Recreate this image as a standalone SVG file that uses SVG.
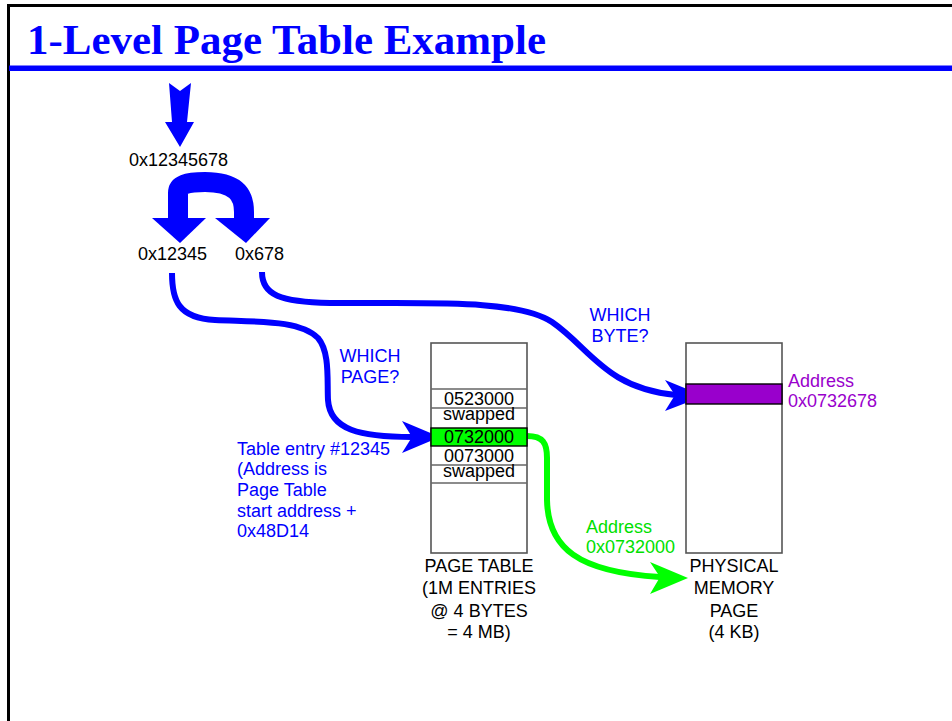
<svg xmlns="http://www.w3.org/2000/svg" width="952" height="721" viewBox="0 0 952 721">
<style>
text{font-family:"Liberation Sans",Arial,sans-serif;font-size:18px}
.title{font-family:"Liberation Serif","Times New Roman",serif;font-size:43px;font-weight:bold;fill:#0000ff}
.blue{fill:#0000ff}
.green{fill:#00e000}
.purple{fill:#9900cc}
.c{text-anchor:middle}
.box{fill:#fff;stroke:#555;stroke-width:1.6}
.row{stroke:#666;stroke-width:1.4}
.wire{fill:none;stroke-width:6;stroke-linecap:butt}
</style>
<rect x="0" y="0" width="952" height="721" fill="#fff"/>
<path d="M8.5,721 V5.5 H952" fill="none" stroke="#000" stroke-width="3"/>
<rect x="9" y="65.5" width="943" height="5.5" fill="#0000ff"/>
<text class="title" x="27" y="54" textLength="519" lengthAdjust="spacingAndGlyphs">1-Level Page Table Example</text>

<g id="address">
<polygon points="169,83 180,91 191,83 187,122 194,122 180,147 165,122 172,122" fill="#0000ff"/>
<text x="129" y="166">0x12345678</text>
</g>

<g id="split">
<path d="M178,219 V193 C178,185 186,182 205,182 C236,182 244,195 244,212 V219" fill="none" stroke="#0000ff" stroke-width="20"/>
<polygon points="152,218 206,218 180,243" fill="#0000ff"/>
<polygon points="215,218 270,218 246,243" fill="#0000ff"/>
<text x="138" y="260">0x12345</text>
<text x="235" y="260">0x678</text>
</g>

<g id="connectors">
<path class="wire" stroke="#0000ff" d="M172,273 C172,300 178,318 215,320 C260,322 300,320 318,338 C330,352 327,380 328,400 C330,430 360,437 412,437"/>
<polygon points="440,437 402,421 412,437 402,453" fill="#0000ff"/>
<path class="wire" stroke="#0000ff" d="M262,272 C262,295 280,302 330,303 C420,304 515,298 552,322 C590,348 605,388 676,395"/>
<polygon points="704,396 665,380 675,395 665,411" fill="#0000ff"/>
<path class="wire" stroke="#00ff00" d="M527,436 C543,436 547,443 547,458 L547,500 C548,548 578,572 660,577"/>
<polygon points="688,578 650,562 660,577 650,594" fill="#00ff00"/>
</g>

<g id="labels">
<text class="blue c" x="370" y="362">WHICH</text>
<text class="blue c" x="370" y="383">PAGE?</text>
<text class="blue c" x="620" y="321">WHICH</text>
<text class="blue c" x="620" y="342">BYTE?</text>
<text class="blue" x="237" y="455">Table entry #12345</text>
<text class="blue" x="237" y="475">(Address is</text>
<text class="blue" x="237" y="496">Page Table</text>
<text class="blue" x="237" y="517">start address +</text>
<text class="blue" x="237" y="537">0x48D14</text>
<text class="green" x="586" y="533">Address</text>
<text class="green" x="586" y="553">0x0732000</text>
</g>

<g id="page-table">
<rect class="box" x="431" y="343" width="96" height="210"/>
<line class="row" x1="431" y1="389" x2="527" y2="389"/>
<line class="row" x1="431" y1="408" x2="527" y2="408"/>
<line class="row" x1="431" y1="465" x2="527" y2="465"/>
<line class="row" x1="431" y1="483" x2="527" y2="483"/>
<rect x="431" y="428" width="96" height="18" fill="#00ff00" stroke="#000" stroke-width="1.4"/>
<text class="c" x="479" y="405">0523000</text>
<text class="c" x="479" y="420">swapped</text>
<text class="c" x="479" y="443">0732000</text>
<text class="c" x="479" y="462">0073000</text>
<text class="c" x="479" y="477">swapped</text>
<text class="c" x="479" y="572">PAGE TABLE</text>
<text class="c" x="479" y="594">(1M ENTRIES</text>
<text class="c" x="479" y="617">@ 4 BYTES</text>
<text class="c" x="479" y="638">= 4 MB)</text>
</g>

<g id="physical-page">
<rect class="box" x="686" y="343" width="96" height="210"/>
<rect x="686" y="384" width="96" height="20" fill="#9900cc" stroke="#000" stroke-width="1.4"/>
<text class="purple" x="788" y="387">Address</text>
<text class="purple" x="788" y="407">0x0732678</text>
<text class="c" x="734" y="572">PHYSICAL</text>
<text class="c" x="734" y="594">MEMORY</text>
<text class="c" x="734" y="617">PAGE</text>
<text class="c" x="734" y="638">(4 KB)</text>
</g>
</svg>
